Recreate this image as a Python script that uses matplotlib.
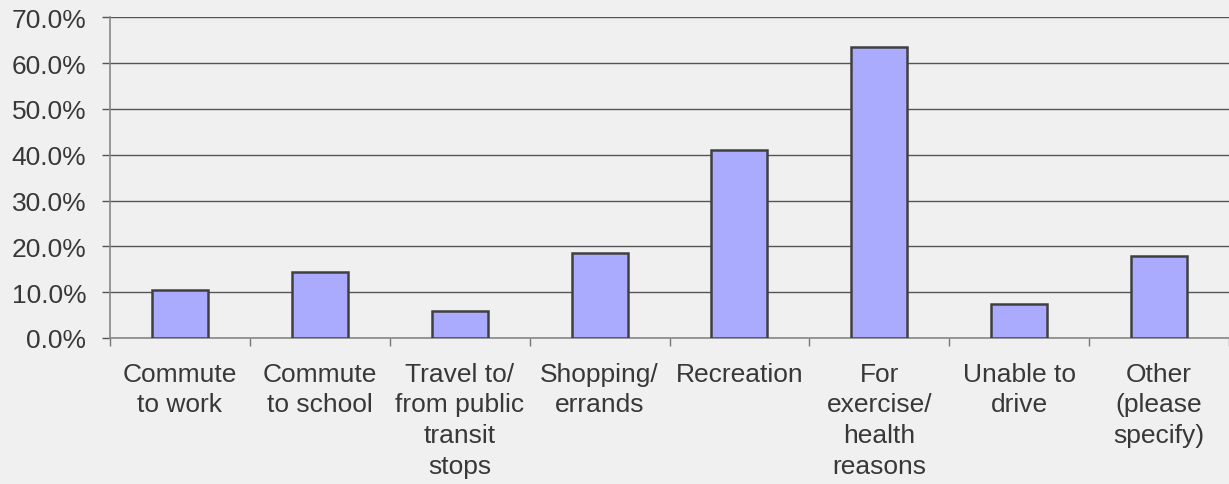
import matplotlib
matplotlib.use("Agg")
import matplotlib.pyplot as plt
from matplotlib.ticker import FuncFormatter, MultipleLocator

categories = ["Commute\nto work", "Commute\nto school", "Travel to/\nfrom public\ntransit\nstops",
              "Shopping/\nerrands", "Recreation", "For\nexercise/\nhealth\nreasons",
              "Unable to\ndrive", "Other\n(please\nspecify)"]
values = [10.5, 14.4, 5.9, 18.5, 41.0, 63.5, 7.5, 17.9]

plt.rcParams['font.family'] = ['Liberation Sans', 'DejaVu Sans']
bg = '#f0f0f0'
txt = '#383838'

fig = plt.figure(figsize=(12.29, 4.85), dpi=100, facecolor=bg)
ax = fig.add_axes([110/1229, (485-339)/485, 1 - 110/1229, (339-18.3)/485])
ax.set_facecolor(bg)

x = list(range(len(categories)))
ax.bar(x, values, width=0.4, color='#aaaaff', edgecolor='#404040', linewidth=1.8, zorder=3)

ax.set_xlim(-0.5, len(categories) - 0.5)
ax.set_ylim(0, 70)
ax.yaxis.set_major_locator(MultipleLocator(10))
ax.yaxis.set_major_formatter(FuncFormatter(lambda v, p: f"{v:.1f}%"))
ax.grid(axis='y', color='#555555', linewidth=1.0, zorder=0)
ax.set_axisbelow(True)

ax.set_xticks([i - 0.5 for i in range(len(categories) + 1)], minor=False)
ax.set_xticklabels([])
ax.set_xticks(x, minor=True)
ax.set_xticklabels(categories, minor=True, linespacing=1.36)
ax.tick_params(axis='x', which='major', length=6, width=1, color='#777777')
ax.tick_params(axis='x', which='minor', length=0, pad=17, labelsize=19, labelcolor=txt)
ax.tick_params(axis='y', length=6, width=1, color='#555555', labelsize=19, labelcolor=txt, pad=11)

for s in ['top', 'right']:
    ax.spines[s].set_visible(False)
ax.spines['left'].set_color('#888888')
ax.spines['left'].set_linewidth(1.2)
ax.spines['bottom'].set_color('#888888')
ax.spines['bottom'].set_linewidth(1.2)

fig.savefig('out.png', dpi=100, facecolor=bg)
